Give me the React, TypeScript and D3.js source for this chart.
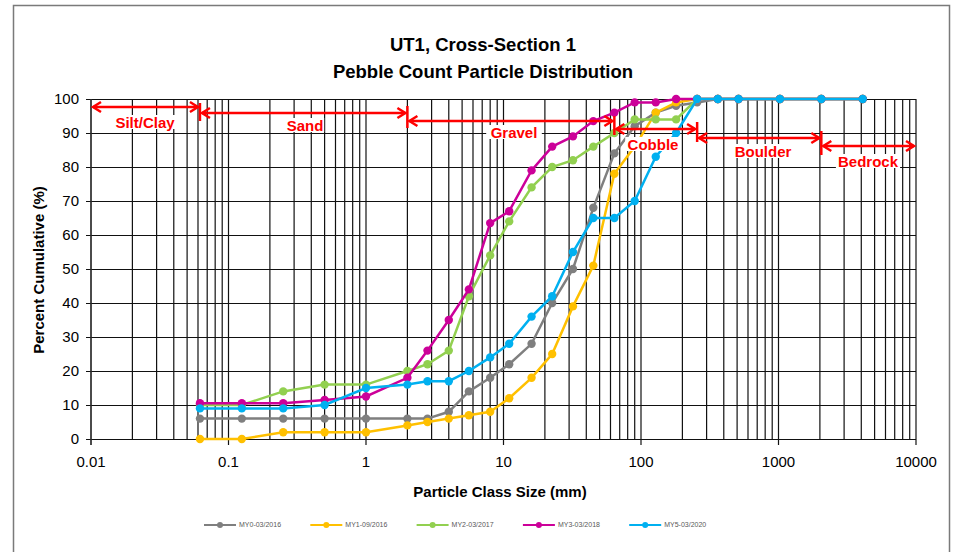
import React from "react";
import * as d3 from "d3";

const sizes = [0.062, 0.125, 0.25, 0.5, 1, 2, 2.8, 4, 5.6, 8, 11, 16, 22.6, 32, 45, 64, 90, 128, 180, 256, 362, 512, 1024, 2048, 4096];
const my0 = [6, 6, 6, 6, 6, 6, 6, 8, 14, 18, 22, 28, 40, 50, 68, 84, 92, 96, 98, 99, 100, 100, 100, 100, 100];
const my1 = [0, 0, 2, 2, 2, 4, 5, 6, 7, 8, 12, 18, 25, 39, 51, 78, 86, 96, 99, 100, 100, 100, 100, 100, 100];
const my2 = [10, 10, 14, 16, 16, 20, 22, 26, 42, 54, 64, 74, 80, 82, 86, 90, 94, 94, 94, 100, 100, 100, 100, 100, 100];
const my3 = [10.5, 10.5, 10.5, 11.5, 12.5, 18, 26, 35, 44, 63.5, 67, 79, 86, 89, 93.5, 96, 99, 99, 100, 100, 100, 100, 100, 100, 100];
const my5 = [9, 9, 9, 10, 15, 16, 17, 17, 20, 24, 28, 36, 42, 55, 65, 65, 70, 83, 90, 100, 100, 100, 100, 100, 100];

const seriesNames = ["MY0-03/2016", "MY1-09/2016", "MY2-03/2017", "MY3-03/2018", "MY5-03/2020"];
const seriesColors = ["#7f7f7f", "#ffc000", "#92d050", "#cc0099", "#00b0f0"];
const seriesValues = [my0, my1, my2, my3, my5];

const xTicks = [0.01, 0.1, 1, 10, 100, 1000, 10000];
const yTicks = [0, 10, 20, 30, 40, 50, 60, 70, 80, 90, 100];

const classBounds = [0.01, 0.062, 2, 64, 256, 2048, 10000];
const classNames = ["Silt/Clay", "Sand", "Gravel", "Cobble", "Boulder", "Bedrock"];

const title1 = "UT1, Cross-Section 1";
const title2 = "Pebble Count Particle Distribution";

export default function App() {
  const W = 965, H = 552;
  const x = d3.scaleLog().domain([0.01, 10000]).range([91, 916]);
  const y = d3.scaleLinear().domain([0, 100]).range([439, 99]);

  const minor: number[] = [];
  for (let e = -2; e < 4; e++) {
    for (let m = 1; m < 10; m++) minor.push(m * Math.pow(10, e));
  }
  minor.push(10000);

  const line = d3.line<[number, number]>().x(d => x(d[0])).y(d => y(d[1]));

  // annotation layout (pixel styling)
  const arrowY = [107, 113, 121, 129, 138, 146];
  const tickSpan: [number, number][] = [[103, 121], [106, 128], [116, 135], [122, 142], [131, 155]];
  const labelPos: [number, number][] = [[145, 123], [305, 126], [514, 133], [653, 145], [763, 152], [868, 162]];
  const red = "#ff0000";

  const arrowHead = (px: number, py: number, dir: number, key: string) => (
    <path key={key} d={`M${px + dir * 8},${py - 5} L${px},${py} L${px + dir * 8},${py + 5}`} fill="none" stroke={red} strokeWidth={2.5} />
  );

  const font = "'Liberation Sans', Arial, sans-serif";

  return (
    <svg width={W} height={H} style={{ position: "absolute", left: 0, top: 0, background: "#fff" }} fontFamily={font}>
      <rect x={13.5} y={5.5} width={936} height={560} fill="#fff" stroke="#7a7a7a" strokeWidth={1.5} />
      <text x={483} y={51} textAnchor="middle" fontSize={18.5} fontWeight="bold" fill="#000">{title1}</text>
      <text x={483} y={78} textAnchor="middle" fontSize={18.5} fontWeight="bold" fill="#000">{title2}</text>

      {/* vertical grid */}
      {minor.map((v, i) => {
        const major = Math.abs(Math.log10(v) - Math.round(Math.log10(v))) < 1e-9;
        return (
          <line key={"vx" + i} x1={x(v)} x2={x(v)} y1={99} y2={major ? 445 : 439} stroke="#111" strokeWidth={1.2} />
        );
      })}
      {/* horizontal grid */}
      {yTicks.map(t => (
        <line key={"hy" + t} x1={86} x2={916} y1={Math.round(y(t)) + 0.5} y2={Math.round(y(t)) + 0.5} stroke="#111" strokeWidth={1} />
      ))}
      <line x1={91} x2={91} y1={99} y2={445} stroke="#333" strokeWidth={1.2} />

      {yTicks.map(t => (
        <text key={"yl" + t} x={79} y={y(t)} dy="0.35em" textAnchor="end" fontSize={15} fill="#000">{t}</text>
      ))}
      {xTicks.map(t => (
        <text key={"xl" + t} x={x(t)} y={462} dy="0.35em" textAnchor="middle" fontSize={15} fill="#000">{String(t)}</text>
      ))}

      <text transform="translate(39,270) rotate(-90)" textAnchor="middle" fontSize={15} fontWeight="bold" fill="#000" dy="0.35em">Percent Cumulative (%)</text>
      <text x={500} y={492} dy="0.35em" textAnchor="middle" fontSize={15} fontWeight="bold" fill="#000">Particle Class Size (mm)</text>

      {/* series */}
      {seriesValues.map((vals, si) => {
        const pts: [number, number][] = sizes.map((s, i) => [s, vals[i]]);
        return (
          <g key={"s" + si}>
            <path d={line(pts) || ""} fill="none" stroke={seriesColors[si]} strokeWidth={2.5} />
            {pts.map((p, i) => (
              <circle key={i} cx={x(p[0])} cy={y(p[1])} r={4.2} fill={seriesColors[si]} />
            ))}
          </g>
        );
      })}

      {/* annotations */}
      {classNames.map((name, i) => {
        const x1 = x(classBounds[i]) + 2;
        const x2 = x(classBounds[i + 1]) - 2;
        const ay = arrowY[i];
        const [lx, ly] = labelPos[i];
        const tw = name.length * 8.6 + 4;
        return (
          <g key={"an" + i}>
            <rect x={lx - tw / 2} y={ly - 8} width={tw} height={14} fill="#fff" />
            <text x={lx} y={ly} dy="0.35em" textAnchor="middle" fontSize={15} fontWeight="bold" fill={red}>{name}</text>
            <line x1={x1} x2={x2} y1={ay} y2={ay} stroke={red} strokeWidth={2.5} />
            {arrowHead(x1, ay, 1, "l")}
            {arrowHead(x2, ay, -1, "r")}
          </g>
        );
      })}
      {tickSpan.map(([a, b], i) => (
        <line key={"tk" + i} x1={x(classBounds[i + 1])} x2={x(classBounds[i + 1])} y1={a} y2={b} stroke={red} strokeWidth={2.5} />
      ))}

      {/* legend */}
      {seriesNames.map((n, i) => {
        const lx = 204 + i * 106.3;
        return (
          <g key={"lg" + i}>
            <line x1={lx} x2={lx + 32} y1={525} y2={525} stroke={seriesColors[i]} strokeWidth={2} />
            <circle cx={lx + 16} cy={525} r={3} fill={seriesColors[i]} />
            <text x={lx + 35} y={525} dy="0.35em" fontSize={7} fill="#595959">{n}</text>
          </g>
        );
      })}
    </svg>
  );
}
